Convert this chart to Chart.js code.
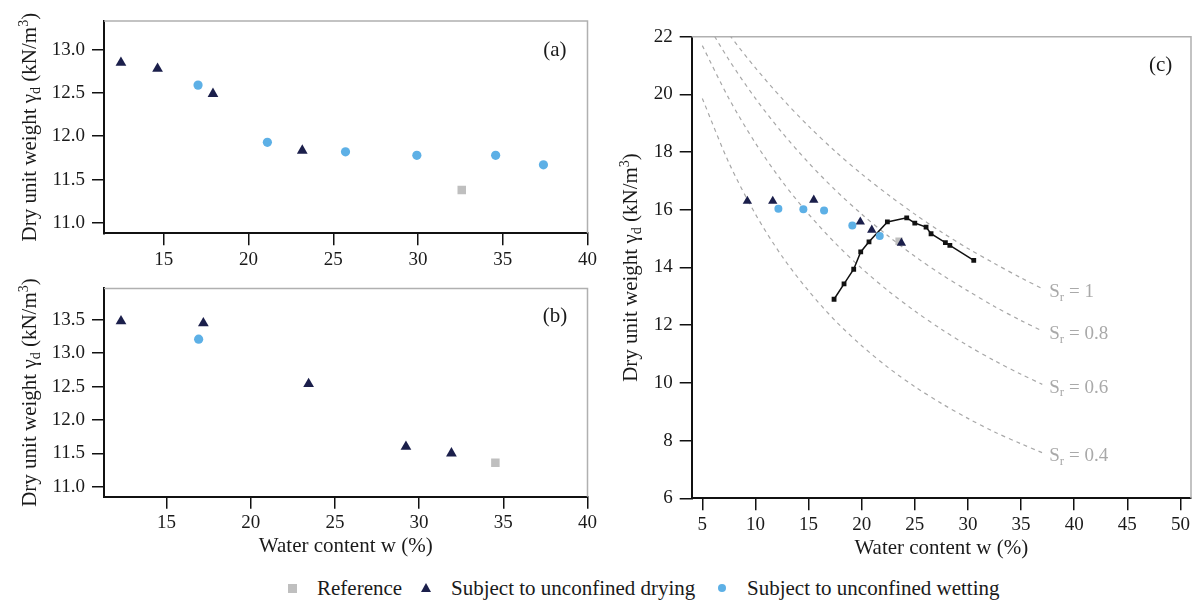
<!DOCTYPE html>
<html><head><meta charset="utf-8">
<script src="https://cdn.jsdelivr.net/npm/chart.js@4.4.1/dist/chart.umd.min.js"></script>
<style>
body{margin:0;background:#fff;width:1200px;height:601px;overflow:hidden;position:relative;font-family:"Liberation Serif","Times New Roman",serif;}
canvas{position:absolute;}
.lt{position:absolute;font-size:21px;color:#1a1a1a;line-height:24px;top:576px;white-space:nowrap;}
.mk{position:absolute;}
</style></head>
<body>
<canvas id="ca" width="600" height="280" style="left:0;top:0"></canvas>
<canvas id="cb" width="600" height="300" style="left:0;top:270px"></canvas>
<canvas id="cc" width="600" height="575" style="left:600px;top:0"></canvas>
<div id="legend">
  <div class="mk" style="left:288px;top:584px;width:9px;height:9px;background:#bfbfbf"></div>
  <span class="lt" style="left:317px">Reference</span>
  <div class="mk" style="left:421px;top:583px;width:0;height:0;border-left:5px solid transparent;border-right:5px solid transparent;border-bottom:9px solid #1b1f4b"></div>
  <span class="lt" style="left:451px">Subject to unconfined drying</span>
  <div class="mk" style="left:718px;top:584px;width:8px;height:8px;border-radius:50%;background:#5db0e6"></div>
  <span class="lt" style="left:747px">Subject to unconfined wetting</span>
</div>
<script>
// ---------- data ----------
// panel (a)
const aRefW = [32.58];
const aRefG = [11.38];
const aDryW = [12.47, 14.63, 17.90, 23.17];
const aDryG = [12.85, 12.78, 12.49, 11.835];
const aWetW = [17.02, 21.11, 25.72, 29.93, 34.58, 37.40];
const aWetG = [12.59, 11.93, 11.82, 11.78, 11.78, 11.67];
// panel (b)
const bRefW = [34.53];
const bRefG = [11.36];
const bDryW = [12.30, 17.19, 23.44, 29.22, 31.92];
const bDryG = [13.48, 13.45, 12.54, 11.60, 11.50];
const bWetW = [16.91];
const bWetG = [13.21];
// panel (c)
const cRefW = [23.52];
const cRefG = [14.91];
const cDryW = [9.24, 11.63, 15.49, 19.87, 20.95, 23.74];
const cDryG = [16.30, 16.30, 16.34, 15.58, 15.30, 14.85];
const cWetW = [12.16, 14.51, 16.46, 19.12, 21.70];
const cWetG = [16.04, 16.02, 15.98, 15.46, 15.09];
const compW = [17.40, 18.34, 19.25, 19.91, 20.69, 22.42, 24.24, 25.00, 26.06, 26.53, 27.88, 28.30, 30.55];
const compG = [12.90, 13.43, 13.94, 14.54, 14.89, 15.58, 15.72, 15.54, 15.40, 15.17, 14.86, 14.77, 14.25];
// saturation lines
const srW   = [5, 7.5, 10, 12.5, 15, 17.5, 20, 22.5, 25, 27.5, 30, 32.5, 35, 37];
const sr10  = [23.41, 22.09, 20.92, 19.86, 18.90, 18.03, 17.24, 16.52, 15.85, 15.23, 14.66, 14.14, 13.64, 13.27];
const sr08  = [22.73, 21.20, 19.86, 18.68, 17.63, 16.69, 15.85, 15.09, 14.39, 13.76, 13.19, 12.65, 12.16, 11.80];
const sr06  = [21.69, 19.86, 18.31, 16.99, 15.85, 14.85, 13.97, 13.19, 12.49, 11.86, 11.29, 10.77, 10.30, 9.95];
const sr04  = [19.86, 17.63, 15.85, 14.39, 13.19, 12.16, 11.29, 10.53, 9.87, 9.29, 8.77, 8.30, 7.89, 7.58];
const srNames = ['1', '0.8', '0.6', '0.4'];
// tick labels
const abXTicks = [15, 20, 25, 30, 35, 40];
const aYTicks = [11.0, 11.5, 12.0, 12.5, 13.0];
const bYTicks = [11.0, 11.5, 12.0, 12.5, 13.0, 13.5];
const cXTicks = [5, 10, 15, 20, 25, 30, 35, 40, 45, 50];
const cYTicks = [6, 8, 10, 12, 14, 16, 18, 20, 22];

// ---------- styles ----------
const FONT = '"Liberation Serif", "Times New Roman", serif';
const NAVY = '#1b1f4b', LBLUE = '#5db0e6', GREY = '#bfbfbf', TXT = '#1a1a1a';
const xTitle = 'Water content w (%)';
const yTitleSegs = [{s:'Dry unit weight γ',t:'n'},{s:'d',t:'sub'},{s:' (kN/m',t:'n'},{s:'3',t:'sup'},{s:')',t:'n'}];

const zip = (xs, ys) => xs.map((x, i) => ({x, y: ys[i]}));

function drawRich(ctx, cx, cy, size, segs, color, vertical, align) {
  ctx.save();
  ctx.translate(cx, cy);
  if (vertical) ctx.rotate(-Math.PI / 2);
  ctx.fillStyle = color; ctx.textBaseline = 'alphabetic'; ctx.textAlign = 'left';
  const small = Math.round(size * 0.66);
  let total = 0;
  const parts = segs.map(s => {
    const f = (s.t === 'n' ? size : small) + 'px ' + FONT;
    ctx.font = f; const w = ctx.measureText(s.s).width; total += w;
    return {s: s.s, f, w, t: s.t};
  });
  let x = align === 'left' ? 0 : -total / 2;
  const base = size * 0.33;
  parts.forEach(p => {
    ctx.font = p.f;
    let y = base;
    if (p.t === 'sub') y += size * 0.2;
    if (p.t === 'sup') y -= size * 0.4;
    ctx.fillText(p.s, x, y); x += p.w;
  });
  ctx.restore();
}

function deco(opt) {
  return {
    id: 'deco',
    beforeDatasetsDraw(chart) {
      const {ctx, chartArea: a} = chart;
      ctx.save();
      ctx.strokeStyle = '#b0b0b0'; ctx.lineWidth = 1.5;
      ctx.beginPath(); ctx.moveTo(a.left, a.top); ctx.lineTo(a.right, a.top); ctx.lineTo(a.right, a.bottom); ctx.stroke();
      ctx.restore();
    },
    afterDraw(chart) {
      const {ctx, chartArea: a} = chart;
      drawRich(ctx, opt.yTitleX, (a.top + a.bottom) / 2, 21, yTitleSegs, TXT, true);
      ctx.save();
      ctx.font = '21px ' + FONT; ctx.fillStyle = TXT; ctx.textAlign = 'center'; ctx.textBaseline = 'middle';
      ctx.fillText(opt.label, a.right + opt.labelDx, a.top + opt.labelDy);
      ctx.restore();
      if (opt.sr) {
        const xs = chart.scales.x, ys = chart.scales.y;
        opt.sr.forEach((curve, i) => {
          const px = xs.getPixelForValue(srW[srW.length - 1]) + 7;
          const py = ys.getPixelForValue(curve[curve.length - 1]) + 2;
          drawRich(ctx, px, py, 19, [{s:'S',t:'n'},{s:'r',t:'sub'},{s:' = ' + srNames[i],t:'n'}], '#a9a9a9', false, 'left');
        });
      }
    }
  };
}

function axis(min, max, ticks, fmt, size, isX, titlePad) {
  return {
    type: 'linear', min, max,
    afterBuildTicks: s => { s.ticks = ticks.map(v => ({value: v})); },
    afterFit: s => { if (isX) s.height = size; else s.width = size; },
    border: {display: true, color: '#111', width: 2},
    grid: {display: true, drawOnChartArea: false, drawTicks: true, tickLength: 12, color: '#111', lineWidth: 1.5},
    ticks: {color: TXT, font: {family: FONT, size: 19}, padding: isX ? 3 : 7, maxRotation: 0, autoSkip: false, callback: v => fmt(v)},
    title: titlePad != null ? {display: true, text: xTitle, color: TXT, font: {family: FONT, size: 21}, padding: {top: 0, bottom: titlePad}} : {display: false}
  };
}

function markers(refW, refG, dryW, dryG, wetW, wetG, triR, cirR, sqR) {
  return [
    {label: 'Reference', data: zip(refW, refG), pointStyle: 'rect', pointRadius: sqR, backgroundColor: GREY, borderWidth: 0, showLine: false, order: 3},
    {label: 'Subject to unconfined drying', data: zip(dryW, dryG), pointStyle: 'triangle', pointRadius: triR, backgroundColor: NAVY, borderWidth: 0, showLine: false, order: 2},
    {label: 'Subject to unconfined wetting', data: zip(wetW, wetG), pointStyle: 'circle', pointRadius: cirR, backgroundColor: LBLUE, borderWidth: 0, showLine: false, order: 1}
  ];
}

const common = {
  responsive: false, animation: false, devicePixelRatio: 1,
  plugins: {legend: {display: false}, tooltip: {enabled: false}},
  elements: {point: {borderWidth: 0, hoverRadius: 0}}
};

const f1 = v => Number(v).toFixed(1);
const f0 = v => String(v);

// (a)
new Chart(document.getElementById('ca'), {
  type: 'scatter',
  data: {datasets: markers(aRefW, aRefG, aDryW, aDryG, aWetW, aWetG, 6.2, 4.6, 6)},
  options: Object.assign({}, common, {
    layout: {padding: {top: 21, right: 10.7, left: 0, bottom: 0}},
    scales: {x: axis(11.47, 40, abXTicks, f0, 46.7, true, null), y: axis(10.88, 13.33, aYTicks, f1, 104, false, null)}
  }),
  plugins: [deco({yTitleX: 29, label: '(a)', labelDx: -32.6, labelDy: 29.3})]
});

// (b)
new Chart(document.getElementById('cb'), {
  type: 'scatter',
  data: {datasets: markers(bRefW, bRefG, bDryW, bDryG, bWetW, bWetG, 6.2, 4.6, 6)},
  options: Object.assign({}, common, {
    layout: {padding: {top: 15, right: 10.7, left: 0, bottom: 0}},
    scales: {x: axis(11.29, 40, abXTicks, f0, 73.3, true, 11.4), y: axis(10.85, 13.97, bYTicks, f1, 104, false, null)}
  }),
  plugins: [deco({yTitleX: 29, label: '(b)', labelDx: -32.6, labelDy: 28.3})]
});

// (c)
const curveDs = [sr10, sr08, sr06, sr04].map(c => ({
  data: zip(srW, c), showLine: true, pointRadius: 0, borderColor: '#a8a8a8', borderWidth: 1.2,
  borderDash: [4, 4], tension: 0.3, fill: false, order: 10
}));
new Chart(document.getElementById('cc'), {
  type: 'scatter',
  data: {datasets: markers(cRefW, cRefG, cDryW, cDryG, cWetW, cWetG, 5.4, 4, 5.2).concat([
    {label: 'compaction', data: zip(compW, compG), showLine: true, pointStyle: 'rect', pointRadius: 3.4,
     backgroundColor: '#111', borderColor: '#111', borderWidth: 1.5, pointBorderWidth: 0, tension: 0, order: 5}
  ]).concat(curveDs)},
  options: Object.assign({}, common, {
    layout: {padding: {top: 36.7, right: 9, left: 0, bottom: 0}},
    scales: {x: axis(4, 51, cXTicks, f0, 76.7, true, 14.4), y: axis(6, 22, cYTicks, f0, 91.7, false, null)}
  }),
  plugins: [deco({yTitleX: 30, label: '(c)', labelDx: -30.4, labelDy: 28.3, sr: [sr10, sr08, sr06, sr04]})]
});
</script>
</body></html>
